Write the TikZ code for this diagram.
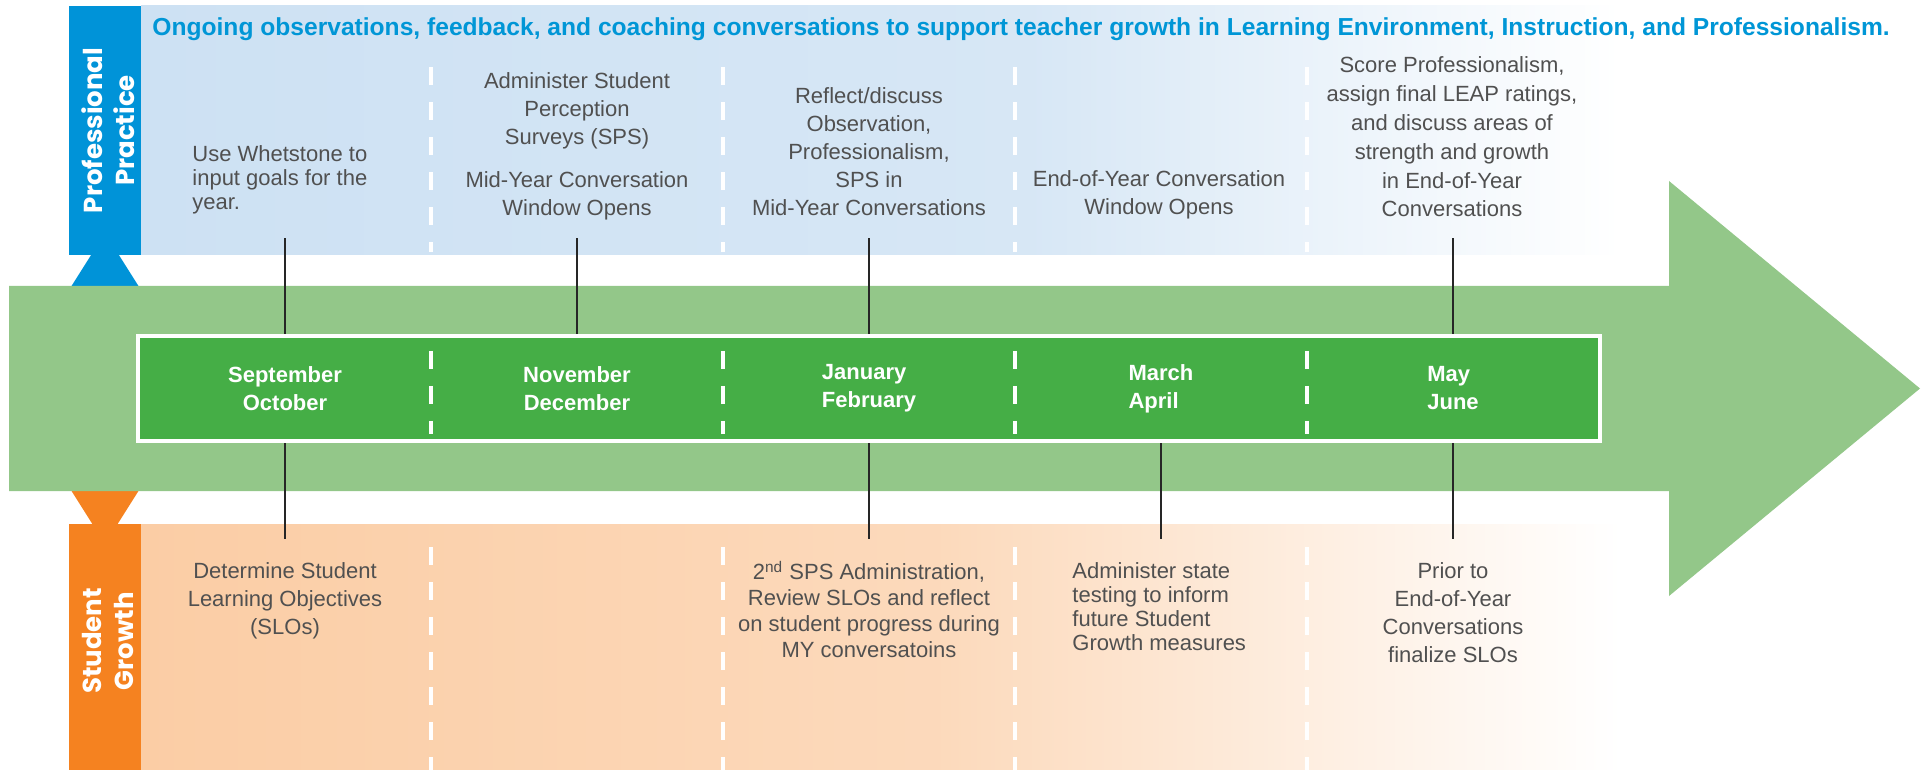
\documentclass[tikz,border=0pt]{standalone}
\usepackage{fontspec}
\setmainfont{Liberation Sans}
\newfontfamily\tabfont{Poppins}
\usetikzlibrary{positioning}

\definecolor{ppblue}{RGB}{0,147,216}
\definecolor{ppband}{RGB}{205,225,243}
\definecolor{sgorange}{RGB}{245,130,32}
\definecolor{sgband}{RGB}{251,205,165}
\definecolor{arrowgreen}{RGB}{147,199,137}
\definecolor{monthgreen}{RGB}{69,174,70}
\definecolor{headblue}{RGB}{0,150,214}
\definecolor{txtgray}{RGB}{80,80,80}

\pgfdeclarehorizontalshading{ppfade}{100bp}{color(0bp)=(ppband); color(25bp)=(ppband); color(55bp)=(ppband!80!white); color(75bp)=(white); color(100bp)=(white)}
\pgfdeclarehorizontalshading{sgfade}{100bp}{color(0bp)=(sgband); color(25bp)=(sgband); color(52bp)=(sgband!75!white); color(75bp)=(white); color(100bp)=(white)}

\begin{document}
\begin{tikzpicture}[x=0.5pt,y=-0.5pt,
  note/.style={text=txtgray,font=\fontsize{11}{14}\selectfont,align=center,inner sep=0pt},
  month/.style={text=white,font=\fontsize{11}{14}\selectfont\bfseries,align=center,minimum width=146pt,minimum height=54.5pt,inner sep=0pt},
  tab/.style={text=white,font=\tabfont\bfseries\fontsize{13}{16}\selectfont,rotate=90,align=center,inner sep=0pt},
  colsep/.style={color=white,line width=2pt,dash pattern=on 9pt off 8.5pt},
  tick/.style={color=black!85,line width=0.75pt}]
\useasboundingbox (0.000000, 0.000000) rectangle (1929.000000, 770.000000);
% Drawing bands
% Line 1: professional practice
\fill[color=ppblue] (69.000000, 290.000000) -- (105.000000, 233.000000) -- (141.000000, 290.000000) -- cycle;
\fill[color=ppblue] (69.000000, 6.000000) rectangle (141.000000, 255.000000);
\shade[shading=ppfade] (141.000000, 6.000000) rectangle (1621.000000, 255.000000);
% Line 2: student growth
\fill[color=sgorange] (69.000000, 487.000000) -- (105.000000, 544.000000) -- (141.000000, 487.000000) -- cycle;
\fill[color=sgorange] (69.000000, 524.000000) rectangle (141.000000, 770.000000);
\shade[shading=sgfade] (141.000000, 524.000000) rectangle (1621.000000, 770.000000);
% Line 3: time arrow
\fill[color=arrowgreen] (9.000000, 286.000000) -- (1669.000000, 286.000000) -- (1669.000000, 181.000000) -- (1920.000000, 388.500000) -- (1669.000000, 596.000000) -- (1669.000000, 491.000000) -- (9.000000, 491.000000) -- cycle;
\node[draw=white,line width=2pt,fill=monthgreen,minimum width=731pt,minimum height=52.5pt,inner sep=0pt] (months) at (869.000000, 388.500000) {};
% Done with bands; drawing separators
\draw[colsep] (431.000000, 67.000000) -- (431.000000, 252.000000);
\draw[colsep] (723.000000, 67.000000) -- (723.000000, 252.000000);
\draw[colsep] (1015.000000, 67.000000) -- (1015.000000, 252.000000);
\draw[colsep] (1307.000000, 67.000000) -- (1307.000000, 252.000000);
\draw[colsep] (431.000000, 351.000000) -- (431.000000, 434.000000);
\draw[colsep] (723.000000, 351.000000) -- (723.000000, 434.000000);
\draw[colsep] (1015.000000, 351.000000) -- (1015.000000, 434.000000);
\draw[colsep] (1307.000000, 351.000000) -- (1307.000000, 434.000000);
\draw[colsep] (431.000000, 547.000000) -- (431.000000, 770.000000);
\draw[colsep] (723.000000, 547.000000) -- (723.000000, 770.000000);
\draw[colsep] (1015.000000, 547.000000) -- (1015.000000, 770.000000);
\draw[colsep] (1307.000000, 547.000000) -- (1307.000000, 770.000000);
% Done with separators; drawing labels
\node[tab] (pp) at (108.000000, 130.500000) {Professional\\Practice};
\node[tab] (sg) at (108.000000, 641.000000) {Student\\Growth};
\node[anchor=west,inner sep=0pt,text=headblue,font=\bfseries\fontsize{12.3}{14}\selectfont] (ongoing) at (152.000000, 29.000000) {Ongoing observations, feedback, and coaching conversations to support teacher growth in Learning Environment, Instruction, and Professionalism.};
\node[month] (m1) at (285.000000, 388.500000) {September\\October};
\node[month] (m2) at (577.000000, 388.500000) {November\\December};
\node[month,align=left] (m3) at (869.000000, 388.500000) {January\\February};
\node[month,align=left] (m4) at (1161.000000, 388.500000) {March\\April};
\node[month,align=left] (m5) at (1453.000000, 388.500000) {May\\June};
% Line 4: professional practice notes
\node[note,align=left,anchor=west,font=\fontsize{11}{12}\selectfont] (pp1) at (192.000000, 180.000000) {Use Whetstone to\\input goals for the\\year.};
\node[note] (pp2) at (577.000000, 146.000000) {Administer Student\\Perception\\Surveys (SPS)\\[7.5pt]Mid-Year Conversation\\Window Opens};
\node[note] (pp3) at (869.000000, 152.000000) {Reflect/discuss\\Observation,\\Professionalism,\\SPS in\\Mid-Year Conversations};
\node[note] (pp4) at (1159.000000, 194.500000) {End-of-Year Conversation\\Window Opens};
\node[note,font=\fontsize{11}{14.4}\selectfont] (pp5) at (1452.000000, 137.000000) {Score Professionalism,\\assign final LEAP ratings,\\and discuss areas of\\strength and growth\\in End-of-Year\\Conversations};
% Line 5: student growth notes
\node[note] (sg1) at (285.000000, 601.000000) {Determine Student\\Learning Objectives\\(SLOs)};
\node[note,font=\fontsize{11}{13}\selectfont] (sg3) at (869.000000, 609.500000) {2\textsuperscript{nd} SPS Administration,\\Review SLOs and reflect\\on student progress during\\MY conversatoins};
\node[note,align=left,anchor=west,font=\fontsize{11}{12}\selectfont] (sg4) at (1072.000000, 607.000000) {Administer state\\testing to inform\\future Student\\Growth measures};
\node[note] (sg5) at (1453.000000, 613.000000) {Prior to\\End-of-Year\\Conversations\\finalize SLOs};
% Done with labels; drawing ticks
\coordinate (t1) at (285.000000, 238.000000);
\coordinate (t2) at (577.000000, 238.000000);
\coordinate (t3) at (869.000000, 238.000000);
\coordinate (t5) at (1453.000000, 238.000000);
\coordinate (b1) at (285.000000, 539.000000);
\coordinate (b3) at (869.000000, 539.000000);
\coordinate (b4) at (1161.000000, 539.000000);
\coordinate (b5) at (1453.000000, 539.000000);
\draw[tick] (m1.north) -- (t1);
\draw[tick] (m2.north) -- (t2);
\draw[tick] (m3.north) -- (t3);
\draw[tick] (m5.north) -- (t5);
\draw[tick] (m1.south) -- (b1);
\draw[tick] (m3.south) -- (b3);
\draw[tick] (m4.south) -- (b4);
\draw[tick] (m5.south) -- (b5);
% Done with ticks
\end{tikzpicture}
\end{document}
